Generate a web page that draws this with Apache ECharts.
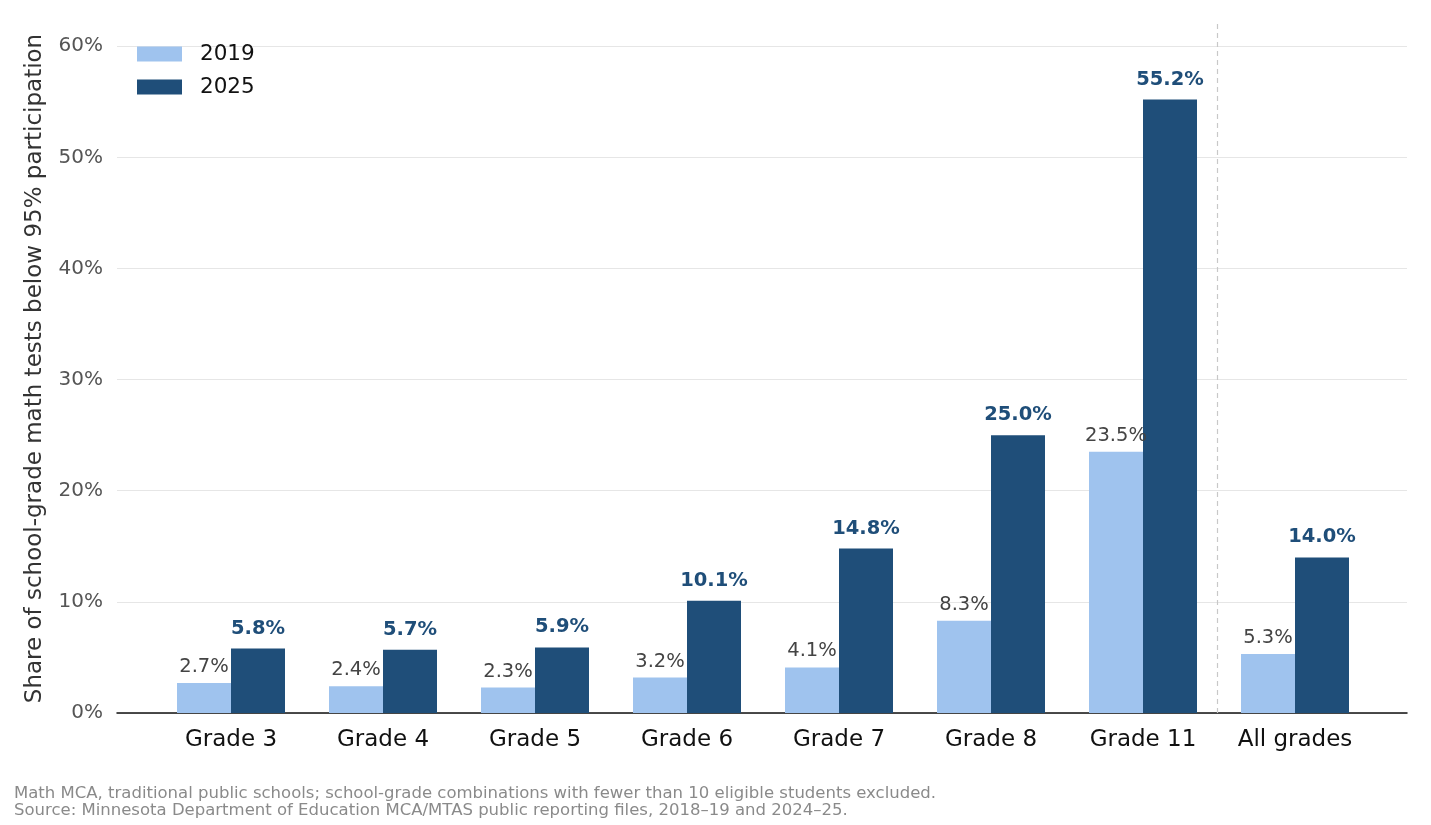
<!DOCTYPE html>
<html>
<head>
<meta charset="utf-8">
<script src="https://cdn.jsdelivr.net/npm/echarts@6/dist/echarts.min.js"></script>
<style>
  html, body { margin: 0; padding: 0; background: #fff; }
  #chart { width: 1431px; height: 825px; }
</style>
</head>
<body>
<div id="chart"></div>
<script>
// data ---------------------
var categories = ['Grade 3', 'Grade 4', 'Grade 5', 'Grade 6', 'Grade 7', 'Grade 8', 'Grade 11', 'All grades'];
var values2019 = [2.7, 2.4, 2.3, 3.2, 4.1, 8.3, 23.5, 5.3];
var values2025 = [5.8, 5.7, 5.9, 10.1, 14.8, 25.0, 55.2, 14.0];
var yTicks = [0, 10, 20, 30, 40, 50, 60];

var lightBlue = '#9fc3ee';
var darkBlue = '#1f4e79';
var font = 'DejaVu Sans';

// separator between the grades and "All grades"
var separatorAt = categories.length - 1.5;

var myChart = echarts.init(document.getElementById('chart'));

option = {
    backgroundColor: '#fff',
    textStyle: { fontFamily: font },
    title: {
        text: 'Math MCA, traditional public schools; school-grade combinations with fewer than 10 eligible students excluded.\nSource: Minnesota Department of Education MCA/MTAS public reporting files, 2018\u201319 and 2024\u201325.',
        left: 9,
        top: 780,
        textStyle: { fontFamily: font, fontSize: 16.5, fontWeight: 'normal', color: '#8a8a8a', lineHeight: 17 }
    },
    legend: {
        orient: 'vertical',
        left: 132,
        top: 38,
        itemWidth: 45,
        itemHeight: 15,
        itemGap: 11,
        icon: 'rect',
        data: ['2019', '2025'],
        textStyle: { fontFamily: font, fontSize: 21.5, color: '#111', padding: [0, 0, 0, 13] }
    },
    grid: [
        // full axes frame: y labels, gridlines, baseline, separator
        { left: 117, right: 24, top: 24, bottom: 112 },
        // bars
        { left: 155, right: 60, top: 24, bottom: 112 }
    ],
    xAxis: [
        {
            type: 'value', gridIndex: 0, min: -0.75, max: 7.75,
            axisLine: { show: true, onZero: false, lineStyle: { color: '#111', width: 1.5 } },
            axisTick: { show: false }, axisLabel: { show: false }, splitLine: { show: false }
        },
        {
            type: 'category', gridIndex: 1, data: categories,
            axisLine: { show: false }, axisTick: { show: false },
            axisLabel: { fontFamily: font, fontSize: 23, color: '#111', margin: 16 }
        }
    ],
    yAxis: [
        {
            type: 'value', gridIndex: 0, min: 0, max: 62, interval: 10,
            name: 'Share of school-grade math tests below 95% participation',
            nameLocation: 'middle', nameGap: 70,
            nameTextStyle: { fontFamily: font, fontSize: 23, color: '#333' },
            axisLine: { show: false }, axisTick: { show: false },
            axisLabel: {
                fontFamily: font, fontSize: 20, color: '#555', margin: 14, showMaxLabel: false,
                formatter: function (v) { return yTicks.indexOf(v) >= 0 ? v + '%' : ''; }
            },
            splitLine: {
                lineStyle: {
                    color: ['#e6e6e6', '#e6e6e6', '#e6e6e6', '#e6e6e6', '#e6e6e6', '#e6e6e6', '#e6e6e6', 'rgba(0,0,0,0)'],
                    width: 1.2
                }
            }
        },
        {
            type: 'value', gridIndex: 1, min: 0, max: 62, show: false
        }
    ],
    series: [
        {
            name: '2019', type: 'bar', xAxisIndex: 1, yAxisIndex: 1,
            data: values2019, barWidth: 54, barGap: '0%',
            itemStyle: { color: lightBlue },
            label: {
                show: true, position: 'top', distance: 6,
                fontFamily: font, fontSize: 19.5, color: '#444',
                formatter: function (p) { return p.value.toFixed(1) + '%'; }
            }
        },
        {
            name: '2025', type: 'bar', xAxisIndex: 1, yAxisIndex: 1,
            data: values2025, barWidth: 54, barGap: '0%',
            itemStyle: { color: darkBlue },
            label: {
                show: true, position: 'top', distance: 10,
                fontFamily: font, fontSize: 19.5, fontWeight: 'bold', color: darkBlue,
                formatter: function (p) { return p.value.toFixed(1) + '%'; }
            }
        },
        {
            name: 'separator', type: 'line', xAxisIndex: 0, yAxisIndex: 0,
            data: [[separatorAt, 0]], symbol: 'none', silent: true,
            markLine: {
                silent: true, symbol: 'none', label: { show: false },
                lineStyle: { color: '#c8c8c8', type: [5, 4], width: 1.2 },
                data: [{ xAxis: separatorAt }]
            }
        }
    ]
};

myChart.setOption(option);
</script>
</body>
</html>
